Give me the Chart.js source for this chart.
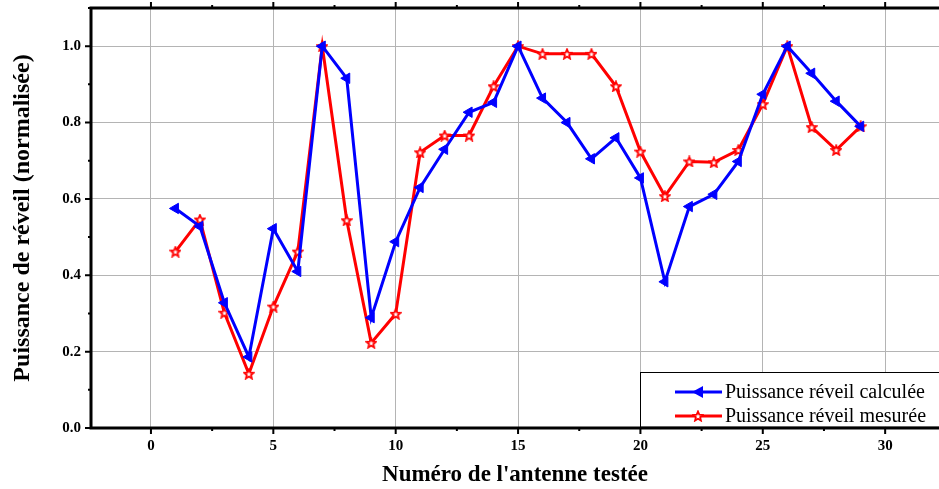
<!DOCTYPE html>
<html>
<head>
<meta charset="utf-8">
<script src="https://cdn.jsdelivr.net/npm/chart.js@4.4.0/dist/chart.umd.min.js"></script>
<style>
  html, body { margin: 0; padding: 0; background: #fff; }
  #wrap { width: 939px; height: 489px; }
</style>
</head>
<body>
<div id="wrap"><canvas id="chart" width="939" height="489"></canvas></div>
<script>
// antenna numbers
const antennas = [1, 2, 3, 4, 5, 6, 7, 8, 9, 10, 11, 12, 13, 14, 15, 16, 17, 18, 19, 20, 21, 22, 23, 24, 25, 26, 27, 28, 29];
// Puissance réveil calculée
const calculee = [0.575, 0.528, 0.328, 0.186, 0.522, 0.41, 1.0, 0.916, 0.289, 0.488, 0.63, 0.73, 0.827, 0.853, 1.0, 0.864, 0.80, 0.705, 0.76, 0.655, 0.383, 0.58, 0.612, 0.698, 0.874, 1.0, 0.929, 0.856, 0.79];
// Puissance réveil mesurée
const mesuree = [0.462, 0.546, 0.302, 0.142, 0.318, 0.462, 1.0, 0.544, 0.223, 0.299, 0.722, 0.766, 0.766, 0.895, 1.0, 0.98, 0.98, 0.98, 0.895, 0.724, 0.607, 0.698, 0.696, 0.728, 0.848, 1.0, 0.788, 0.728, 0.79];
const xTicks = [0, 5, 10, 15, 20, 25, 30];
const yTicks = [0, 0.2, 0.4, 0.6, 0.8, 1.0];
const seriesNames = ["Puissance réveil calculée", "Puissance réveil mesurée"];

const BLUE = "#0000ff";
const RED = "#ff0000";

// hollow 5-point star used as marker
function makeStar(size) {
  const c = document.createElement("canvas");
  c.width = size; c.height = size;
  const g = c.getContext("2d");
  const cx = size / 2, cy = size / 2 + 0.5, ro = size / 2 - 1, ri = ro * 0.45;
  g.beginPath();
  for (let i = 0; i < 10; i++) {
    const r = i % 2 ? ri : ro;
    const a = -Math.PI / 2 + i * Math.PI / 5;
    g.lineTo(cx + r * Math.cos(a), cy + r * Math.sin(a));
  }
  g.closePath();
  g.fillStyle = "#fff";
  g.fill();
  g.strokeStyle = RED;
  g.lineWidth = 1.8;
  g.stroke();
  return c;
}
const starImg = makeStar(12);

// --- frame, ticks and legend like the original plot ---
const framePlugin = {
  id: "framePlugin",
  afterDraw(chart) {
    const { ctx, chartArea: a, scales } = chart;
    const x = scales.x, y = scales.y;
    ctx.save();
    ctx.strokeStyle = "#000";
    ctx.lineWidth = 3;
    ctx.beginPath();
    ctx.moveTo(a.left, a.top); ctx.lineTo(a.left, a.bottom);
    ctx.moveTo(a.left - 1.5, a.bottom); ctx.lineTo(a.right, a.bottom);
    ctx.moveTo(a.left - 1.5, a.top); ctx.lineTo(a.right, a.top);
    ctx.stroke();

    ctx.lineWidth = 2;
    ctx.beginPath();
    for (let v = -2.5; v <= 32.5; v += 2.5) {
      const px = x.getPixelForValue(v);
      if (px < a.left + 2 || px > a.right) continue;
      const len = v % 5 === 0 ? 6 : 3;
      ctx.moveTo(px, a.bottom); ctx.lineTo(px, a.bottom + len);
      ctx.moveTo(px, a.top); ctx.lineTo(px, a.top - len);
    }
    for (let v = 0; v <= 1.1; v += 0.1) {
      const py = y.getPixelForValue(v);
      const major = Math.round(v * 10) % 2 === 0;
      const len = major ? 6 : 3;
      ctx.moveTo(a.left, py); ctx.lineTo(a.left - len, py);
    }
    ctx.stroke();

    // legend box
    const bx = 640, by = 372, bw = a.right - 640 + 2, bh = a.bottom - 372 - 1.5;
    ctx.fillStyle = "#fff";
    ctx.fillRect(bx, by, bw, bh);
    ctx.lineWidth = 1;
    ctx.strokeStyle = "#000";
    ctx.strokeRect(bx + 0.5, by + 0.5, bw, bh);

    const rows = [
      { color: BLUE, y: 392, label: seriesNames[0], mark: "tri" },
      { color: RED, y: 416, label: seriesNames[1], mark: "star" }
    ];
    rows.forEach(r => {
      ctx.strokeStyle = r.color;
      ctx.lineWidth = 3;
      ctx.beginPath();
      ctx.moveTo(675, r.y); ctx.lineTo(722, r.y);
      ctx.stroke();
      if (r.mark === "tri") {
        ctx.fillStyle = BLUE;
        ctx.beginPath();
        ctx.moveTo(692, r.y);
        ctx.lineTo(703, r.y - 6);
        ctx.lineTo(703, r.y + 6);
        ctx.closePath();
        ctx.fill();
      } else {
        ctx.drawImage(starImg, 698 - 6, r.y - 6);
      }
      ctx.fillStyle = "#000";
      ctx.font = "20px 'Liberation Serif', serif";
      ctx.textAlign = "left";
      ctx.textBaseline = "middle";
      ctx.fillText(r.label, 725, r.y + 1);
    });
    ctx.restore();
  }
};

const tickFont = { family: "'Liberation Serif', serif", size: 15, weight: "bold" };
const titleFont = { family: "'Liberation Serif', serif", size: 23, weight: "bold" };

new Chart(document.getElementById("chart"), {
  type: "line",
  data: {
    datasets: [
      {
        label: seriesNames[0],
        data: antennas.map((a, i) => ({ x: a, y: calculee[i] })),
        borderColor: BLUE,
        backgroundColor: BLUE,
        borderWidth: 3,
        pointStyle: "triangle",
        rotation: -90,
        pointRadius: 6,
        pointBorderWidth: 1,
        tension: 0
      },
      {
        label: seriesNames[1],
        data: antennas.map((a, i) => ({ x: a, y: mesuree[i] })),
        borderColor: RED,
        backgroundColor: RED,
        borderWidth: 3,
        pointStyle: starImg,
        tension: 0
      }
    ]
  },
  options: {
    responsive: false,
    animation: false,
    layout: { autoPadding: false, padding: { top: 8, right: 0, left: 0, bottom: 0 } },
    plugins: { legend: { display: false }, tooltip: { enabled: false } },
    scales: {
      x: {
        type: "linear",
        min: -2.45,
        max: 32.2,
        afterBuildTicks: s => { s.ticks = xTicks.map(v => ({ value: v })); },
        afterFit: s => { s.height = 61; s.paddingLeft = 0; s.paddingRight = 0; },
        grid: { color: "#b4b4b4", lineWidth: 1, drawTicks: false },
        border: { display: false },
        ticks: { color: "#000", font: tickFont, padding: 9, maxRotation: 0 },
        title: { display: true, text: "Numéro de l'antenne testée", color: "#000", font: titleFont, padding: { top: 0, bottom: 0 } }
      },
      y: {
        min: 0,
        max: 1.1,
        afterBuildTicks: s => { s.ticks = yTicks.map(v => ({ value: v })); },
        afterFit: s => { s.width = 91; s.paddingTop = 0; s.paddingBottom = 0; },
        grid: { color: "#b4b4b4", lineWidth: 1, drawTicks: false },
        border: { display: false },
        ticks: { color: "#000", font: tickFont, padding: 10, callback: v => v.toFixed(1) },
        title: { display: true, text: "Puissance de réveil (normalisée)", color: "#000", font: { ...titleFont, size: 24 }, padding: { top: 8, bottom: 0 } }
      }
    }
  },
  plugins: [framePlugin]
});
</script>
</body>
</html>
